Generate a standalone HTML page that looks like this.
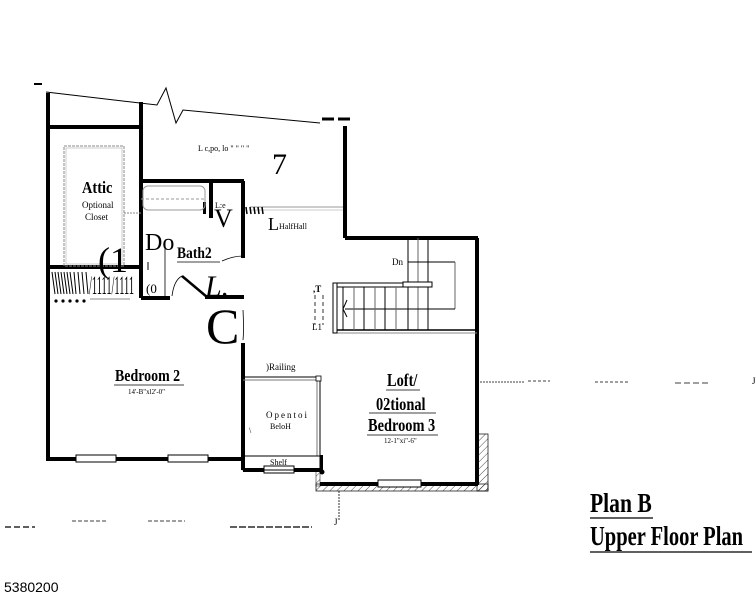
<!DOCTYPE html>
<html><head><meta charset="utf-8"><style>
html,body{margin:0;padding:0;background:#fff;}
svg{display:block;}
text{font-family:"Liberation Serif",serif;fill:#000;}
.s{font-family:"Liberation Sans",sans-serif;}
</style></head><body>
<svg width="756" height="594" viewBox="0 0 756 594" xmlns="http://www.w3.org/2000/svg">
<defs>
<pattern id="h" width="5" height="5" patternUnits="userSpaceOnUse" patternTransform="rotate(45)">
<line x1="0" y1="0" x2="0" y2="5" stroke="#000" stroke-width="0.7"/></pattern>
</defs>
<line x1="34" y1="84" x2="42" y2="84" stroke="#000" stroke-width="2"/>
<polyline points="46,92 157,105 166,88 176,123 183,110 320,123" fill="none" stroke="#000" stroke-width="1"/>
<line x1="322" y1="119" x2="334" y2="119" stroke="#000" stroke-width="3"/>
<line x1="338" y1="119" x2="350" y2="119" stroke="#000" stroke-width="3"/>
<g stroke="#000" stroke-width="4" fill="none">
<line x1="48" y1="93" x2="48" y2="461"/>
<line x1="48" y1="127" x2="141" y2="127"/>
<line x1="141" y1="102" x2="141" y2="298"/>
<line x1="48" y1="267" x2="141" y2="267"/>
<line x1="141" y1="181" x2="244" y2="181"/>
<line x1="211" y1="181" x2="211" y2="218"/>
<line x1="243" y1="181" x2="243" y2="258"/>
<line x1="141" y1="298" x2="170" y2="298"/>
<line x1="205" y1="297" x2="244" y2="297"/>
<line x1="243" y1="343" x2="243" y2="470"/>
<line x1="345" y1="126" x2="345" y2="238"/>
<line x1="345" y1="238" x2="478" y2="238"/>
<line x1="477" y1="238" x2="477" y2="485"/>
<line x1="320" y1="484" x2="478" y2="484"/>
<line x1="48" y1="459" x2="243" y2="459"/>
<line x1="243" y1="470" x2="322" y2="470"/>
</g>
<rect x="203" y="202" width="3" height="12" fill="#000"/>
<rect x="320" y="455" width="3" height="18" fill="#000"/>
<circle cx="322" cy="472" r="2.5" fill="#000"/>
<rect x="477" y="434" width="11" height="57" fill="url(#h)" stroke="#000" stroke-width="0.7"/>
<rect x="316" y="484" width="172" height="7" fill="url(#h)" stroke="#000" stroke-width="0.7"/>
<rect x="316" y="470" width="4" height="16" fill="url(#h)" stroke="#000" stroke-width="0.5"/>
<g fill="#fff" stroke="#000" stroke-width="1">
<rect x="76" y="455" width="40" height="7"/>
<rect x="168" y="455" width="40" height="7"/>
<rect x="264" y="466" width="30" height="7"/>
<rect x="378" y="480" width="43" height="7"/>
</g>
<rect x="64" y="146" width="60" height="120" fill="none" stroke="#888" stroke-width="1" stroke-dasharray="3,1"/>
<rect x="66" y="148" width="56" height="116" fill="none" stroke="#aaa" stroke-width="0.6"/>
<line x1="124" y1="213" x2="141" y2="213" stroke="#888" stroke-dasharray="2,1"/>
<g stroke="#000" stroke-width="1">
<line x1="52" y1="272" x2="55" y2="294"/><line x1="55" y1="272" x2="58" y2="294"/><line x1="58" y1="272" x2="61" y2="294"/><line x1="61" y1="272" x2="64" y2="294"/><line x1="64" y1="272" x2="67" y2="294"/><line x1="67" y1="272" x2="70" y2="294"/><line x1="70" y1="272" x2="73" y2="294"/><line x1="74" y1="272" x2="76" y2="294"/><line x1="78" y1="272" x2="80" y2="294"/><line x1="82" y1="272" x2="84" y2="294"/><line x1="86" y1="272" x2="88" y2="294"/>
</g>
<text x="89" y="294" font-size="26" transform="translate(89 0) scale(0.4 1) translate(-89 0)">/1111/1111</text>
<g fill="#000"><circle cx="56" cy="301" r="1.6"/><circle cx="63" cy="301" r="1.6"/><circle cx="70" cy="301" r="1.6"/><circle cx="77" cy="301" r="1.6"/><circle cx="84" cy="301" r="1.6"/></g>
<line x1="90" y1="299" x2="130" y2="299" stroke="#888"/>
<rect x="143" y="186" width="62" height="24" rx="5" fill="none" stroke="#999" stroke-width="1"/>
<line x1="141" y1="199" x2="206" y2="199" stroke="#999" stroke-dasharray="3,2"/>
<line x1="148" y1="270" x2="148" y2="262" stroke="#000"/>
<line x1="165" y1="242" x2="165" y2="296" stroke="#000" stroke-width="0.8"/>
<line x1="182" y1="276" x2="207" y2="297" stroke="#000" stroke-width="2.5"/>
<path d="M172,296 Q174,280 182,276" fill="none" stroke="#000" stroke-width="0.8"/>
<path d="M222,261 Q233,256 243,256" fill="none" stroke="#000" stroke-width="0.8"/>
<path d="M243,310 Q244,330 243,340" fill="none" stroke="#000" stroke-width="0.8"/>
<line x1="250" y1="207" x2="343" y2="207" stroke="#999" stroke-width="1"/>
<line x1="250" y1="210" x2="343" y2="210" stroke="#ccc" stroke-width="1"/>
<g stroke="#000" stroke-width="1.5"><line x1="246" y1="207" x2="247" y2="214"/><line x1="250" y1="207" x2="251" y2="214"/><line x1="254" y1="207" x2="255" y2="214"/><line x1="258" y1="207" x2="259" y2="214"/><line x1="262" y1="207" x2="263" y2="214"/></g>
<g stroke="#000" stroke-width="1" fill="none">
<line x1="408" y1="238" x2="408" y2="330"/><line x1="418" y1="238" x2="418" y2="330" stroke="#666"/><line x1="428" y1="238" x2="428" y2="330"/>
<line x1="408" y1="262" x2="455" y2="262"/><line x1="455" y1="262" x2="455" y2="309" stroke="#666"/>
<line x1="345" y1="309" x2="455" y2="309"/>
<line x1="333" y1="283" x2="430" y2="283"/><line x1="333" y1="287" x2="430" y2="287"/>
<line x1="333" y1="330" x2="477" y2="330" stroke-width="1.5"/>
<line x1="333" y1="333" x2="477" y2="333" stroke="#888"/>
<line x1="343" y1="287" x2="343" y2="330"/><line x1="354" y1="287" x2="354" y2="330" stroke="#666"/><line x1="364" y1="287" x2="364" y2="330"/><line x1="375" y1="287" x2="375" y2="330" stroke="#666"/><line x1="385" y1="287" x2="385" y2="330"/><line x1="396" y1="287" x2="396" y2="330" stroke="#666"/>
<rect x="333" y="283" width="4" height="50" fill="#fff"/>
<rect x="403" y="282" width="29" height="5" fill="#fff"/>
<path d="M347,300 L343,309 L347,317" />
</g>
<text x="392" y="265" font-size="9">Dn</text>
<text x="313" y="292" font-size="9" font-weight="bold">,T</text>
<text x="312" y="330" font-size="9">L1</text>
<g stroke="#000" stroke-width="0.8"><line x1="315" y1="295" x2="315" y2="325" stroke-dasharray="4,3"/><line x1="323" y1="295" x2="323" y2="325" stroke-dasharray="4,3"/></g>
<rect x="243" y="377" width="77" height="93" fill="none" stroke="#000" stroke-width="1"/>
<line x1="243" y1="380" x2="318" y2="380" stroke="#777"/>
<line x1="317" y1="380" x2="317" y2="456" stroke="#777"/>
<line x1="243" y1="456" x2="320" y2="456" stroke="#000"/>
<rect x="316" y="376" width="5" height="5" fill="#fff" stroke="#000" stroke-width="0.8"/>
<g stroke="#000" stroke-width="0.8" stroke-dasharray="2,1">
<line x1="480" y1="382" x2="525" y2="382"/><line x1="528" y1="381" x2="550" y2="381" stroke-dasharray="3,2"/>
<line x1="595" y1="382" x2="630" y2="382" stroke-dasharray="3,2"/>
<line x1="675" y1="383" x2="710" y2="383" stroke-dasharray="6,3"/>
<line x1="5" y1="527" x2="35" y2="527" stroke-dasharray="6,3" stroke-width="1.2"/>
<line x1="72" y1="521" x2="108" y2="521" stroke-dasharray="4,2"/>
<line x1="148" y1="521" x2="185" y2="521" stroke-dasharray="4,2"/>
<line x1="230" y1="527" x2="312" y2="527" stroke-dasharray="7,2" stroke-width="1.2"/>
<line x1="339" y1="491" x2="339" y2="520"/>
</g>
<text x="752" y="384" font-size="9">J</text>
<text x="334" y="525" font-size="9">J</text>
<text x="82" y="193" font-size="17" font-weight="bold" transform="translate(82 0) scale(0.85 1) translate(-82 0)">Attic</text>
<text x="82" y="208" font-size="9">Optional</text>
<text x="85" y="220" font-size="9">Closet</text>
<text x="98" y="272" font-size="36">(1</text>
<text x="145" y="250" font-size="24">Do</text>
<text x="177" y="258" font-size="16" font-weight="bold" transform="translate(177 0) scale(0.85 1) translate(-177 0)">Bath2</text>
<line x1="177" y1="262" x2="220" y2="262" stroke="#000" stroke-width="0.8"/>
<text x="146" y="293" font-size="13">(0</text>
<text x="205" y="296" font-size="30" font-style="italic">L.</text>
<text x="206" y="343" font-size="50">C</text>
<text x="215" y="208" font-size="8">L:e</text>
<text x="214" y="227" font-size="26">V</text>
<text x="268" y="230" font-size="18">L</text>
<text x="279" y="229" font-size="8">HalfHall</text>
<text x="198" y="151" font-size="8">L    c,po, lo " " " "</text>
<text x="272" y="174" font-size="30">7</text>
<text x="115" y="381" font-size="17" font-weight="bold" transform="translate(115 0) scale(0.82 1) translate(-115 0)">Bedroom 2</text>
<line x1="114" y1="385" x2="184" y2="385" stroke="#000" stroke-width="0.8"/>
<text x="128" y="394" font-size="7">14'-B"xl2'-0"</text>
<text x="266" y="370" font-size="9">)Railing</text>
<text x="266" y="418" font-size="9" letter-spacing="2">Opentoi</text>
<text x="270" y="429" font-size="8">BeloH</text>
<text x="249" y="433" font-size="8">\</text>
<text x="270" y="465" font-size="8">Shelf</text>
<text x="387" y="386" font-size="18" font-weight="bold" transform="translate(387 0) scale(0.8 1) translate(-387 0)">Loft/</text>
<line x1="386" y1="390" x2="420" y2="390" stroke="#000" stroke-width="0.8"/>
<text x="376" y="410" font-size="18" font-weight="bold" transform="translate(376 0) scale(0.8 1) translate(-376 0)">02tional</text>
<line x1="369" y1="413" x2="436" y2="413" stroke="#000" stroke-width="0.8"/>
<text x="368" y="431" font-size="18" font-weight="bold" transform="translate(368 0) scale(0.8 1) translate(-368 0)">Bedroom 3</text>
<line x1="367" y1="435" x2="438" y2="435" stroke="#000" stroke-width="0.8"/>
<text x="384" y="443" font-size="7">12-1"xi"-6"</text>
<text x="590" y="512" font-size="27" font-weight="bold" transform="translate(590 0) scale(0.8 1) translate(-590 0)">Plan B</text>
<line x1="590" y1="518" x2="653" y2="518" stroke="#000" stroke-width="1.2"/>
<text x="590" y="545" font-size="27" font-weight="bold" transform="translate(590 0) scale(0.76 1) translate(-590 0)">Upper Floor Plan</text>
<line x1="590" y1="552" x2="752" y2="552" stroke="#000" stroke-width="1.2"/>
<text class="s" x="4" y="592" font-size="14">5380200</text>
</svg>
</body></html>
